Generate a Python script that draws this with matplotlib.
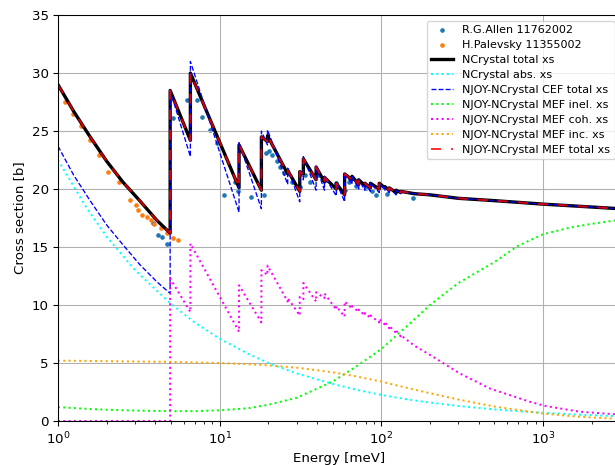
import matplotlib
matplotlib.use("Agg")
import matplotlib.pyplot as plt

# measured points
allen_e = [3.89, 4.17, 4.42, 4.7, 5.13, 6.31, 7.2, 7.8, 8.7, 9.6, 10.7, 12.4, 12.9,
           15.6, 18.8, 19.3, 20.2, 21.2, 22.5, 23.5, 25.0, 28.0, 31.4, 33.7, 36.0,
           40.7, 45.8, 52.2, 59.2, 63.0, 70.0, 80.0, 87.0, 92.4, 108.0, 124.0, 158.0]
allen_xs = [17.1, 16.0, 15.9, 15.3, 26.1, 27.7, 27.7, 26.2, 25.1, 24.0, 19.5, 20.6, 19.8,
            19.3, 19.5, 23.1, 23.3, 22.9, 22.4, 21.9, 21.4, 20.6, 20.2, 21.2, 20.6,
            21.2, 20.8, 20.5, 19.9, 20.6, 20.3, 20.1, 19.8, 19.5, 19.6, 19.8, 19.25]

palevsky_e = [1.1, 1.23, 1.39, 1.58, 1.8, 2.05, 2.38, 2.79, 3.03, 3.14, 3.29, 3.53,
              3.75, 3.95, 4.32, 4.7, 5.13, 5.55]
palevsky_xs = [27.5, 26.5, 25.4, 24.2, 22.9, 21.5, 20.6, 19.05, 18.6, 18.2, 17.8, 17.6,
               17.3, 17.0, 16.6, 16.2, 15.75, 15.6]

# smooth components
e_smooth = [1, 1.5, 2, 3, 5, 7, 10, 15, 20, 30, 50, 70, 100, 150, 200, 300, 500, 700,
            1000, 1500, 2000, 3000]
abs_xs = [22.5, 18.4, 15.9, 13.0, 10.1, 8.5, 7.1, 5.8, 5.0, 4.1, 3.2, 2.7, 2.25, 1.83,
          1.59, 1.3, 1.0, 0.85, 0.71, 0.58, 0.5, 0.41]
inc_xs = [5.2, 5.18, 5.16, 5.13, 5.1, 5.05, 5.0, 4.9, 4.8, 4.6, 4.2, 3.85, 3.4, 2.8,
          2.4, 1.85, 1.25, 0.95, 0.65, 0.42, 0.3, 0.18]
inel_xs = [1.2, 1.05, 0.97, 0.9, 0.85, 0.85, 0.92, 1.1, 1.4, 2.0, 3.4, 4.7, 6.2, 8.4,
           10.0, 11.9, 13.7, 15.1, 16.1, 16.7, 17.0, 17.35]

# below the first Bragg edge
e_low = [1.0, 1.25, 1.58, 2.0, 2.52, 3.2, 4.09]
total_low = [29.0, 26.7, 24.5, 22.4, 20.6, 19.0, 17.3]
cef_low = [23.7, 21.2, 19.0, 16.9, 15.2, 13.5, 12.0]
coh_low = [0.0]

# Bragg edges, value just below / just above each edge
bragg_e = [4.94, 6.59, 13.18, 18.12, 19.77, 26.36, 31.3, 32.95, 39.5, 44.5, 52.7,
           59.3, 65.9, 72.5, 79.1, 85.6, 97.1, 105.4, 112.0, 123.5, 131.8]
total_below = [16.2, 24.2, 20.1, 19.9, 24.1, 21.3, 19.8, 21.3, 20.8, 20.6, 20.0,
               19.5, 20.8, 20.4, 20.3, 20.1, 20.0, 20.1, 19.9, 19.7, 19.7]
total_above = [28.5, 30.0, 23.8, 24.5, 24.6, 21.6, 21.5, 22.6, 21.9, 21.0, 20.5,
               21.3, 21.1, 20.8, 20.5, 20.5, 20.5, 20.2, 20.1, 19.9, 19.8]
cef_below = [11.0, 22.8, 18.0, 18.3, 23.8, 20.4, 18.9, 20.8, 19.9, 19.9, 19.4,
             18.9, 20.4, 20.0, 19.9, 19.8, 19.7, 19.9, 19.7, 19.5, 19.6]
cef_above = [28.5, 31.0, 24.0, 25.0, 25.1, 21.8, 21.6, 22.8, 22.0, 21.1, 20.6,
             21.4, 21.1, 20.8, 20.5, 20.5, 20.5, 20.2, 20.1, 19.9, 19.8]
coh_below = [0.0, 9.4, 7.7, 8.5, 12.6, 10.3, 9.1, 10.5, 10.3, 10.6, 9.6,
             9.0, 9.7, 9.4, 9.1, 8.9, 8.5, 8.3, 8.0, 7.6, 7.3]
coh_above = [12.3, 15.3, 11.7, 13.0, 13.4, 10.6, 10.7, 11.9, 11.1, 11.0, 9.9,
             10.3, 9.9, 9.6, 9.3, 9.1, 8.8, 8.5, 8.2, 7.8, 7.4]

# above the last resolved edge
e_tail = [160, 200, 300, 500, 1000, 2000, 3000]
total_tail = [19.6, 19.5, 19.2, 19.0, 18.7, 18.45, 18.3]
e_coh_tail = [160, 200, 306, 470, 830, 1030, 1690, 3000]
coh_tail = [6.5, 5.7, 4.1, 2.8, 1.66, 1.3, 0.8, 0.55]


def sawtooth(e_start, v_start, below, above, e_end, v_end):
    xs = list(e_start)
    ys = list(v_start)
    for e, lo, hi in zip(bragg_e, below, above):
        xs += [e, e]
        ys += [lo, hi]
    return xs + list(e_end), ys + list(v_end)


e_tot, xs_tot = sawtooth(e_low, total_low, total_below, total_above, e_tail, total_tail)
e_cef, xs_cef = sawtooth(e_low, cef_low, cef_below, cef_above, e_tail, total_tail)
e_coh, xs_coh = sawtooth([1.0], coh_low, coh_below, coh_above, e_coh_tail, coh_tail)

fig = plt.figure(figsize=(615 / 96, 465 / 96), dpi=96)
ax = fig.add_axes([0.0943, 0.0946, 0.914, 0.873])

ax.scatter(allen_e, allen_xs, s=6, label='R.G.Allen 11762002')
ax.scatter(palevsky_e, palevsky_xs, s=6, label='H.Palevsky 11355002')
ax.plot(e_tot, xs_tot, color='black', lw=2.5, label='NCrystal total xs')
ax.plot(e_smooth, abs_xs, color='cyan', ls=':', label='NCrystal abs. xs')
ax.plot(e_cef, xs_cef, color='blue', ls='--', lw=1, label='NJOY-NCrystal CEF total xs')
ax.plot(e_smooth, inel_xs, color='lime', ls=':', label='NJOY-NCrystal MEF inel. xs')
ax.plot(e_coh, xs_coh, color='magenta', ls=':', label='NJOY-NCrystal MEF coh. xs')
ax.plot(e_smooth, inc_xs, color='orange', ls=':', label='NJOY-NCrystal MEF inc. xs')
ax.plot(e_tot, xs_tot, color='red', ls=(0, (5, 5)), lw=1.5, alpha=0.8,
        label='NJOY-NCrystal MEF total xs')

ax.set_xscale('log')
ax.set_xlim(1, 3000)
ax.set_ylim(0, 35)
ax.set_xlabel('Energy [meV]')
ax.set_ylabel('Cross section [b]')
ax.grid(True)
ax.legend(loc='upper right', fontsize='small', labelspacing=0.45)

fig.savefig('out.png', dpi=96)
